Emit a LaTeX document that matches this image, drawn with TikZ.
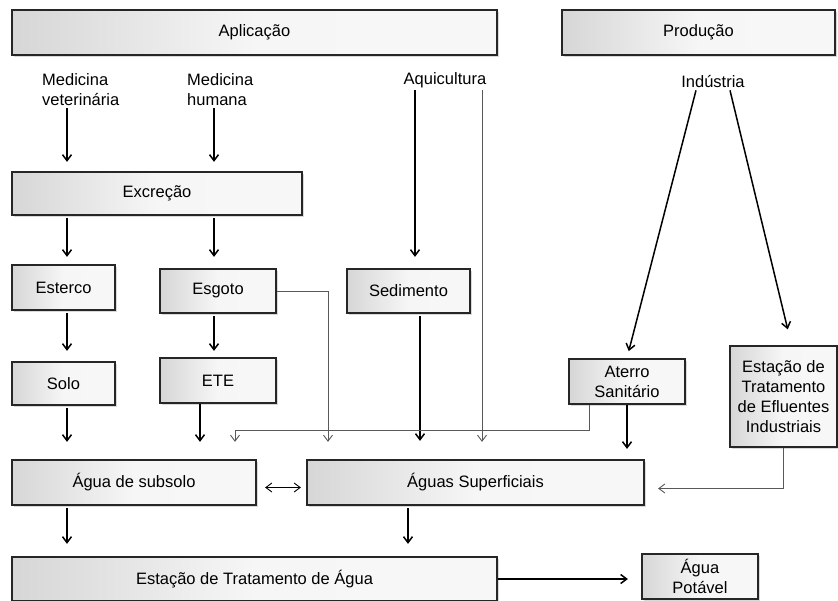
\documentclass[tikz,border=0pt]{standalone}
\usepackage{fontspec}
\setmainfont{Liberation Sans}
\usepackage{tikz}
\usetikzlibrary{arrows.meta,%
                shadows}

\tikzset{caixa/.style={draw=black!85, line width=2.2pt, left color=gray!32, right color=gray!6, middle color=gray!7,
                       drop shadow={shadow xshift=2pt,shadow yshift=-2pt,opacity=0.3},
                       align=center, inner sep=2pt},
         rotulo/.style={inner sep=2pt, align=left},
         seta/.style={-{Straight Barb[length=6pt,width=9pt]}, line width=1.5pt},
         fina/.style={-{Straight Barb[length=6pt,width=9pt]}, gray!70!black, line width=0.9pt}}

\begin{document}
\begin{tikzpicture}[x=1pt,y=-1pt,font=\fontsize{16.5}{20}\selectfont]
\useasboundingbox (0,0) rectangle (838,600);

\node[caixa,minimum width=485pt,minimum height=45pt] (apl) at (254.5,32.5) {Aplicação};
\node[caixa,minimum width=273pt,minimum height=45pt] (prod) at (698.5,32.5) {Produção};

\node[rotulo,anchor=west] (vet) at (40,90) {Medicina\\veterinária};
\node[rotulo,anchor=west] (hum) at (185,90) {Medicina\\humana};
\node[rotulo] (aqui) at (445,80) {Aquicultura};
\node[rotulo] (ind) at (713,82) {Indústria};

\node[caixa,minimum width=290pt,minimum height=43pt] (exc) at (157,193.5) {Excreção};
\node[caixa,minimum width=103pt,minimum height=45pt] (est) at (63.5,287.5) {Esterco};
\node[caixa,minimum width=116pt,minimum height=44pt] (esg) at (218,291) {Esgoto};
\node[caixa,minimum width=123pt,minimum height=44pt] (sed) at (408.5,291) {Sedimento};
\node[caixa,minimum width=103pt,minimum height=43pt] (solo) at (63.5,383.5) {Solo};
\node[caixa,minimum width=116pt,minimum height=45pt] (ete) at (218,380.5) {ETE};
\node[caixa,minimum width=116pt,minimum height=45pt] (ater) at (627,381.5) {Aterro\\Sanitário};
\node[caixa,minimum width=107pt,minimum height=101pt] (etei) at (783.5,396.5) {Estação de\\Tratamento\\de Efluentes\\Industriais};
\node[caixa,minimum width=244pt,minimum height=45pt] (sub) at (134,482.5) {Água de subsolo};
\node[caixa,minimum width=337pt,minimum height=45pt] (sup) at (475.5,482.5) {Águas Superficiais};
\node[caixa,minimum width=485pt,minimum height=44pt] (eta) at (254.5,579) {Estação de Tratamento de Água};
\node[caixa,minimum width=116pt,minimum height=45pt] (pot) at (700,576.5) {Água\\Potável};

% colunas das setas
\coordinate (k1) at (67,0);
\coordinate (k2) at (214,0);
\coordinate (k3) at (200,0);
\coordinate (k4) at (415,0);
\coordinate (k5) at (420,0);
\coordinate (k6) at (482,0);
\coordinate (k7) at (408,0);
\coordinate (k8) at (328,0);
\coordinate (k10) at (589,0);
\coordinate (jun) at (235,430);

\draw[seta,shorten >=9pt] (vet.south -| k1) -- (exc.north -| k1);
\draw[seta,shorten >=9pt] (hum.south -| k2) -- (exc.north -| k2);
\draw[seta,shorten <=2pt,shorten >=7pt] (exc.south -| k1) -- (est.north -| k1);
\draw[seta,shorten <=2pt,shorten >=11pt] (exc.south -| k2) -- (esg.north -| k2);
\draw[seta,shorten <=2pt,shorten >=10pt] (est.south -| k1) -- (solo.north -| k1);
\draw[seta,shorten <=2pt,shorten >=6pt] (esg.south -| k2) -- (ete.north -| k2);
\draw[seta,shorten <=2pt,shorten >=17pt] (solo.south -| k1) -- (sub.north -| k1);
\draw[seta,shorten >=17pt] (ete.south -| k3) -- (sub.north -| k3);
\draw[seta,shorten <=2pt,shorten >=12pt] (sub.south -| k1) -- (eta.north -| k1);

\draw[seta,shorten >=11pt] (aqui.south -| k4) -- (sed.north -| k4);
\draw[fina] (aqui.south -| k6) -- ([yshift=17pt]sup.north -| k6);
\draw[seta,shorten <=2pt,shorten >=18pt] (sed.south -| k5) -- (sup.north -| k5);
\draw[seta,shorten <=2pt,shorten >=12pt] (sup.south -| k7) -- (eta.north -| k7);
\draw[seta,shorten >=10pt] (ater.south) -- (ater.south |- sup.north);

\draw[fina,shorten >=17pt] (esg.east) -| (sup.north -| k8);
\draw[fina,shorten >=17pt] (ater.south -| k10) |- (jun) -- (sub.north -| jun);

\draw[seta,shorten >=7pt] ([xshift=-17pt]ind.south) -- (ater.north);
\draw[seta,shorten >=16pt] ([xshift=17pt]ind.south) -- ([xshift=8pt]etei.north);
\draw[fina,shorten >=13pt] (etei.south) |- ([yshift=-6pt]sup.east);

\draw[fina,{Straight Barb[length=6pt,width=9pt]}-{Straight Barb[length=6pt,width=9pt]},black,shorten <=8pt,shorten >=5pt] ([yshift=-5pt]sub.east) -- ([yshift=-5pt]sup.west);
\draw[seta,shorten >=13pt] (eta.east) -- (eta.east -| pot.west);
\end{tikzpicture}
\end{document}
